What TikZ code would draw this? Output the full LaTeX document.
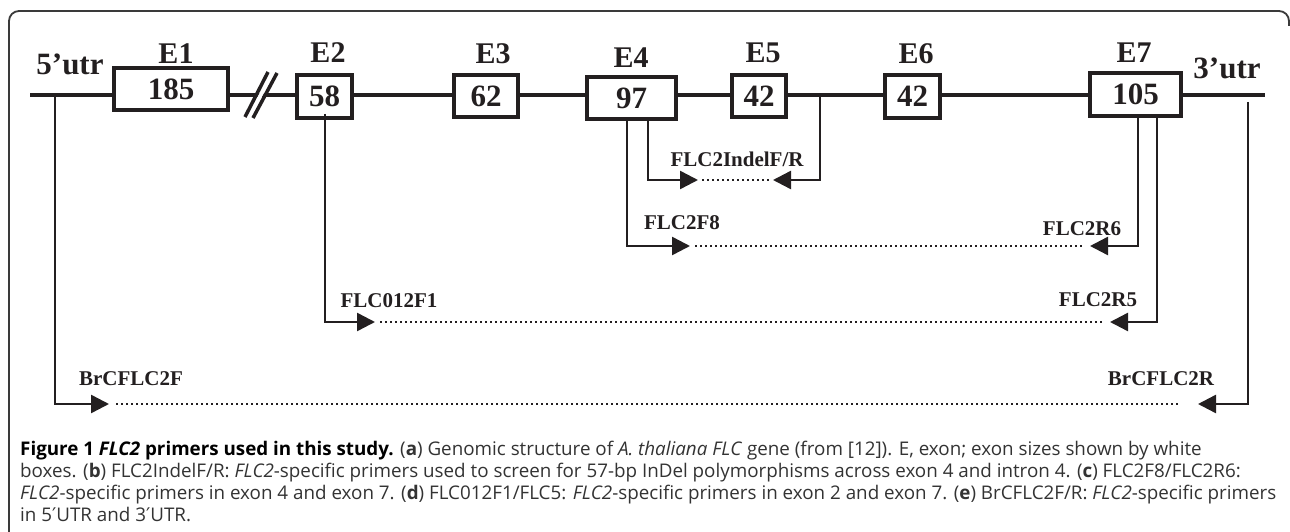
\documentclass[tikz,border=0pt]{standalone}
\usepackage{fontspec}
\setmainfont{Liberation Serif}
\newfontfamily\capfont{Open Sans}
\newfontfamily\primefont{DejaVu Sans}
\usetikzlibrary{arrows.meta,calc}
\definecolor{ink}{HTML}{231F20}
\definecolor{captxt}{HTML}{333333}
\definecolor{framec}{HTML}{3A3A3A}
\begin{document}
\begin{tikzpicture}[x=1pt,y=-1pt,
  exonbox/.style={draw=ink, line width=4pt, fill=white, inner sep=0pt, text=ink,
    font=\fontsize{31}{31}\selectfont\bfseries},
  exlabel/.style={anchor=base, inner sep=0pt, text=ink, font=\fontsize{30}{30}\selectfont\bfseries},
  utrlabel/.style={anchor=base, inner sep=0pt, text=ink, font=\fontsize{31}{31}\selectfont\bfseries},
  mainline/.style={draw=ink, line width=4pt},
  primer/.style={draw=ink, line width=2.5pt, -{Triangle[length=18pt,width=18pt]}},
  dotline/.style={draw=ink, line width=2pt, dash pattern=on 1.6pt off 3.4pt},
  plabel/.style={anchor=base, inner sep=0pt, text=ink, font=\fontsize{21}{21}\selectfont\bfseries},
  capline/.style={anchor=base west, inner sep=0pt, text=captxt, font=\capfont\fontsize{18.8}{18.8}\selectfont},
]
\useasboundingbox (0,0) rectangle (1290,532);
\fill[white] (0,0) rectangle (1290,532);
% frame
\draw[framec, line width=1.8pt, rounded corners=10pt] (9,534) -- (9,11) -- (1289,11) -- (1289,26);

% main line reference
\coordinate (m) at (0,95);
\coordinate (u5) at (30,95);
\coordinate (u3) at (1265,95);

% exon boxes
\node[exonbox, minimum width=114pt, minimum height=42pt] (E1) at (171,89) {185};
\node[exonbox, minimum width=55pt, minimum height=43pt] (E2) at (324.5,96.5) {58};
\node[exonbox, minimum width=64pt, minimum height=42pt] (E3) at (486,96) {62};
\node[exonbox, minimum width=89pt, minimum height=42pt] (E4) at (631.5,98) {97};
\node[exonbox, minimum width=54pt, minimum height=42pt] (E5) at (759,96) {42};
\node[exonbox, minimum width=55pt, minimum height=43pt] (E6) at (912.5,96.5) {42};
\node[exonbox, minimum width=91pt, minimum height=43pt] (E7) at (1135.5,94.5) {105};

% main line segments
\draw[mainline] (u5) -- (E1.west |- m);
\draw[mainline] (E1.east |- m) -- (E2.west |- m);
\draw[mainline] (E2.east |- m) -- (E3.west |- m);
\draw[mainline] (E3.east |- m) -- (E4.west |- m);
\draw[mainline] (E4.east |- m) -- (E5.west |- m);
\draw[mainline] (E5.east |- m) -- (E6.west |- m);
\draw[mainline] (E6.east |- m) -- (E7.west |- m);
\draw[mainline] (E7.east |- m) -- (u3);

% break marks
\coordinate (b1a) at (245,117); \coordinate (b1b) at (268,72);
\coordinate (b2a) at (253,118); \coordinate (b2b) at (277,73);
\draw[white, line width=4pt] (249,117.5) -- (272.5,72.5);
\draw[ink, line width=3.5pt] (b1a) -- (b1b);
\draw[ink, line width=3.5pt] (b2a) -- (b2b);

% exon labels
\node[exlabel] (L1) at (176,64) {E1};
\node[exlabel] (L2) at (328,63) {E2};
\node[exlabel] (L3) at (493,64) {E3};
\node[exlabel] (L4) at (631,68) {E4};
\node[exlabel] (L5) at (763,63) {E5};
\node[exlabel] (L6) at (916,64) {E6};
\node[exlabel] (L7) at (1134,63) {E7};
\node[utrlabel] (U5) at (70,75) {5’utr};
\node[utrlabel] (U3) at (1227,79) {3’utr};

% primer FLC2IndelF/R
\coordinate (iFs) at (648,119);
\coordinate (iFt) at (698,180);
\coordinate (iRs) at (820,95);
\coordinate (iRt) at (773,180);
\draw[primer] (iFs) |- (iFt);
\draw[primer] (iRs) |- (iRt);
\coordinate (iD1) at (702,180); \coordinate (iD2) at (769,180);
\draw[dotline] (iD1) -- (iD2);
\node[plabel] (pIndel) at (737,167) {FLC2IndelF/R};

% primer FLC2F8 / FLC2R6
\coordinate (f8s) at (627,119);
\coordinate (f8t) at (690,246);
\coordinate (r6s) at (1138,116);
\coordinate (r6t) at (1090,246);
\draw[primer] (f8s) |- (f8t);
\draw[primer] (r6s) |- (r6t);
\coordinate (d81) at (695,246); \coordinate (d82) at (1083,246);
\draw[dotline] (d81) -- (d82);
\node[plabel] (pF8) at (682,229) {FLC2F8};
\node[plabel] (pR6) at (1082,235) {FLC2R6};

% primer FLC012F1 / FLC2R5
\coordinate (f1s) at (325,114);
\coordinate (f1t) at (375,322);
\coordinate (r5s) at (1157,116);
\coordinate (r5t) at (1110,322);
\draw[primer] (f1s) |- (f1t);
\draw[primer] (r5s) |- (r5t);
\coordinate (d11) at (380,322); \coordinate (d12) at (1104,322);
\draw[dotline] (d11) -- (d12);
\node[plabel] (pF1) at (389,307) {FLC012F1};
\node[plabel] (pR5) at (1098,306) {FLC2R5};

% primer BrCFLC2F / BrCFLC2R
\coordinate (bFs) at (55,95);
\coordinate (bFt) at (109,404);
\coordinate (bRs) at (1248,102);
\coordinate (bRt) at (1198,404);
\draw[primer] (bFs) |- (bFt);
\draw[primer] (bRs) |- (bRt);
\coordinate (bd1) at (116,404); \coordinate (bd2) at (1180,404);
\draw[dotline] (bd1) -- (bd2);
\node[plabel] (pBF) at (131,385) {BrCFLC2F};
\node[plabel] (pBR) at (1161,385) {BrCFLC2R};

% caption
\node[capline] (c1) at (20,455) {{\color{black}\bfseries Figure 1 \itshape FLC2\upshape\ primers used in this study.} (\textbf{a}) Genomic structure of \textit{A. thaliana FLC} gene (from [12]). E, exon; exon sizes shown by white};
\node[capline] (c2) at (20,477) {boxes. (\textbf{b}) FLC2IndelF/R: \textit{FLC2}-specific primers used to screen for 57-bp InDel polymorphisms across exon 4 and intron 4. (\textbf{c}) FLC2F8/FLC2R6:};
\node[capline] (c3) at (20,499) {\textit{FLC2}-specific primers in exon 4 and exon 7. (\textbf{d}) FLC012F1/FLC5: \textit{FLC2}-specific primers in exon 2 and exon 7. (\textbf{e}) BrCFLC2F/R: \textit{FLC2}-specific primers};
\node[capline] (c4) at (20,521) {in 5{\primefont ′}UTR and 3{\primefont ′}UTR.};
\end{tikzpicture}
\end{document}
